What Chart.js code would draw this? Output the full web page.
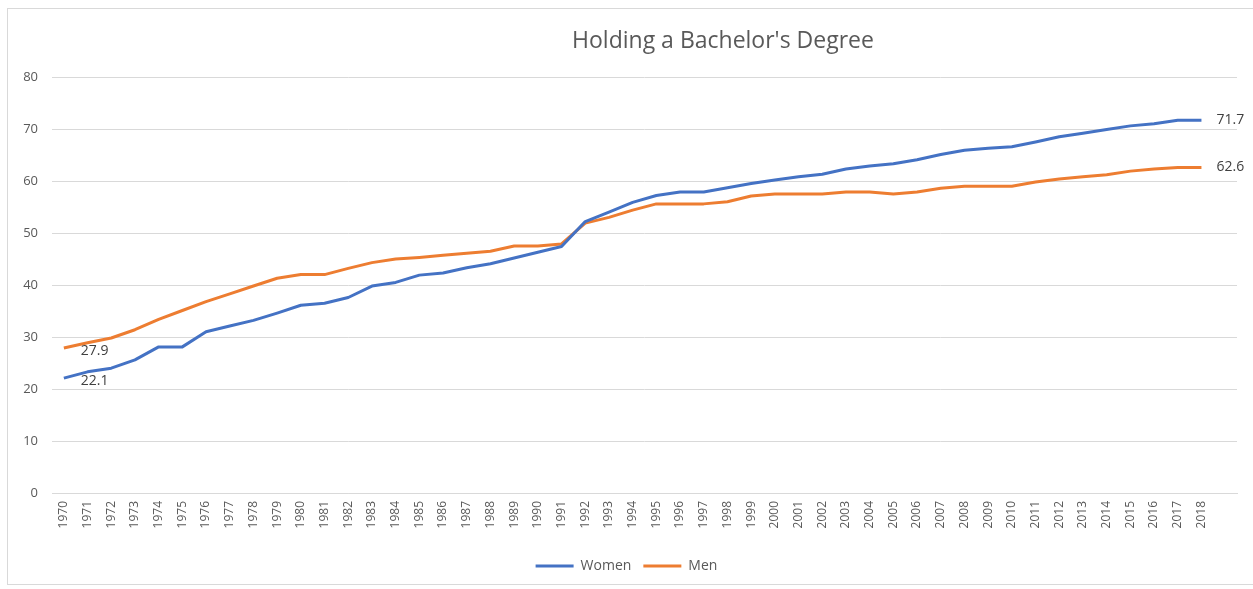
<!DOCTYPE html>
<html>
<head>
<meta charset="utf-8">
<script src="https://cdn.jsdelivr.net/npm/chart.js@4/dist/chart.umd.min.js"></script>
<style>
    html, body { margin: 0; padding: 0; background: #fff; }
    #wrap { position: relative; width: 1253px; height: 589px; overflow: hidden; }
    #frame { position: absolute; left: 7px; top: 8px; width: 1260px; height: 577px; border: 1px solid #d9d9d9; box-sizing: border-box; }
    #title { position: absolute; left: 473px; top: 23px; width: 500px; text-align: center;
             font-family: 'Open Sans', sans-serif; font-size: 23px; color: #595959; }
    canvas { position: absolute; left: 0; top: 0; }
</style>
</head>
<body>
<div id="wrap">
    <div id="frame"></div>
    <canvas id="chart" width="1253" height="589"></canvas>
    <div id="title">Holding a Bachelor's Degree</div>
</div>
<script>
// years shown on the axis; the trailing blank slot mirrors the empty space Excel leaves on the right
const years = [
    '1970', '1971', '1972', '1973', '1974', '1975', '1976', '1977', '1978', '1979',
    '1980', '1981', '1982', '1983', '1984', '1985', '1986', '1987', '1988', '1989',
    '1990', '1991', '1992', '1993', '1994', '1995', '1996', '1997', '1998', '1999',
    '2000', '2001', '2002', '2003', '2004', '2005', '2006', '2007', '2008', '2009',
    '2010', '2011', '2012', '2013', '2014', '2015', '2016', '2017', '2018', '',
];

const women = [
    22.1, 23.3, 24.0, 25.6, 28.1, 28.1, 31.0, 32.1, 33.2, 34.6,
    36.1, 36.5, 37.6, 39.8, 40.5, 41.9, 42.3, 43.3, 44.1, 45.2,
    46.3, 47.4, 52.2, 54.0, 55.9, 57.2, 57.9, 57.9, 58.7, 59.5,
    60.2, 60.8, 61.3, 62.3, 62.9, 63.3, 64.1, 65.1, 65.9, 66.3,
    66.6, 67.5, 68.5, 69.2, 69.9, 70.6, 71.0, 71.7, 71.7, null,
];

const men = [
    27.9, 28.9, 29.8, 31.4, 33.4, 35.1, 36.8, 38.3, 39.8, 41.3,
    42.0, 42.0, 43.2, 44.3, 45.0, 45.3, 45.7, 46.1, 46.5, 47.5,
    47.5, 47.9, 51.9, 53.0, 54.4, 55.6, 55.6, 55.6, 56.0, 57.1,
    57.5, 57.5, 57.5, 57.9, 57.9, 57.5, 57.9, 58.6, 59.0, 59.0,
    59.0, 59.8, 60.4, 60.8, 61.2, 61.9, 62.3, 62.6, 62.6, null,
];

const yTicks = [0, 10, 20, 30, 40, 50, 60, 70, 80];

const grey = '#595959';
const gridColor = '#d9d9d9';
const padLeft = 16;

// values printed next to the first and last point of each line
const endLabels = {
    id: 'endLabels',
    afterDatasetsDraw(chart) {
        const ctx = chart.ctx;
        ctx.save();
        ctx.font = '14px "Open Sans", sans-serif';
        ctx.fillStyle = '#404040';
        ctx.textAlign = 'left';
        ctx.textBaseline = 'middle';
        chart.data.datasets.forEach((ds, i) => {
            const pts = chart.getDatasetMeta(i).data;
            const lastIdx = ds.data.findLastIndex(v => v !== null);
            const first = pts[0];
            const last = pts[lastIdx];
            ctx.fillText(ds.data[0].toFixed(1), first.x + 17, first.y + 3);
            ctx.fillText(ds.data[lastIdx].toFixed(1), last.x + 15, last.y);
        });
        ctx.restore();
    },
};

new Chart(document.getElementById('chart'), {
    type: 'line',
    data: {
        labels: years,
        datasets: [
            {
                label: 'Women',
                data: women,
                borderColor: '#4472C4',
                backgroundColor: '#4472C4',
                borderWidth: 3,
                pointRadius: 0,
                tension: 0,
                borderJoinStyle: 'round',
            },
            {
                label: 'Men',
                data: men,
                borderColor: '#ED7D31',
                backgroundColor: '#ED7D31',
                borderWidth: 3,
                pointRadius: 0,
                tension: 0,
                borderJoinStyle: 'round',
            },
        ],
    },
    options: {
        responsive: false,
        animation: false,
        layout: { padding: { top: 77, right: 16, bottom: 6, left: padLeft } },
        plugins: {
            legend: {
                position: 'bottom',
                labels: {
                    usePointStyle: true,
                    pointStyle: 'line',
                    pointStyleWidth: 38,
                    color: grey,
                    padding: 12,
                    font: { family: '"Open Sans", sans-serif', size: 14 },
                },
            },
            tooltip: { enabled: false },
        },
        scales: {
            x: {
                offset: true,
                grid: { display: false, drawTicks: false },
                border: { display: true, color: gridColor, width: 1 },
                ticks: {
                    color: grey,
                    autoSkip: false,
                    maxRotation: 90,
                    minRotation: 90,
                    padding: 8,
                    font: { family: '"Open Sans", sans-serif', size: 12 },
                },
                afterFit(scale) { scale.height = 54; },
            },
            y: {
                min: 0,
                max: 80,
                afterBuildTicks(scale) { scale.ticks = yTicks.map(v => ({ value: v })); },
                grid: { color: gridColor, drawTicks: false },
                border: { display: false },
                ticks: {
                    color: grey,
                    padding: 14,
                    font: { family: '"Open Sans", sans-serif', size: 13 },
                },
                afterFit(scale) { scale.width = 52 - padLeft; },
            },
        },
    },
    plugins: [endLabels],
});
</script>
</body>
</html>
